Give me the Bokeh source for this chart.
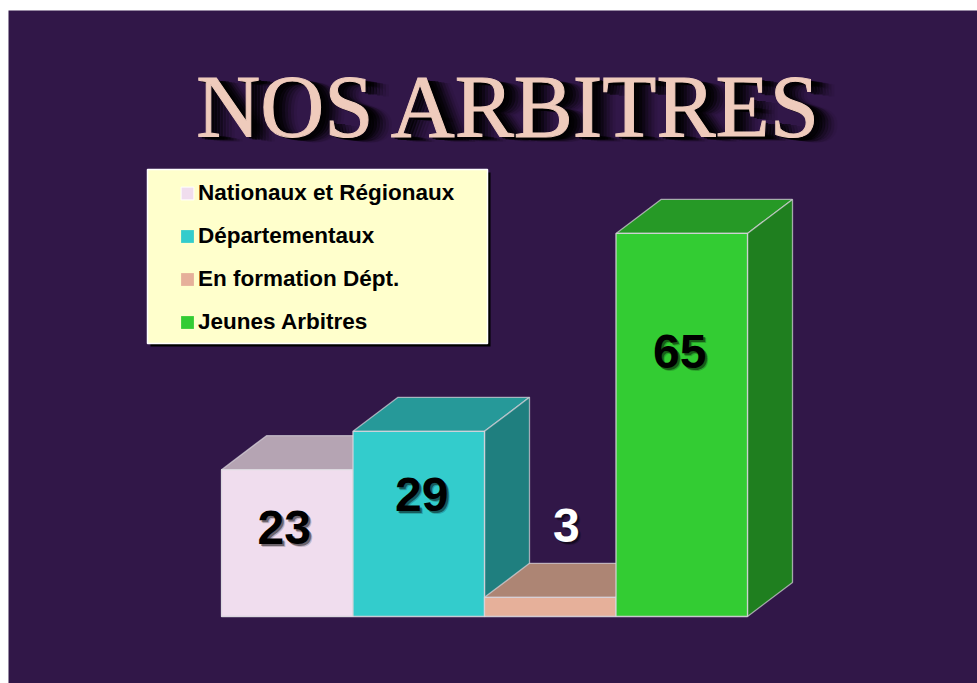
from bokeh.embed import file_html
from bokeh.resources import INLINE
from bokeh.plotting import figure
from bokeh.models import Range1d, Legend, LegendItem, Label, BoxAnnotation
from bokeh.core.properties import value

# ---- data ----
categories = ["Nationaux et Régionaux", "Départementaux", "En formation Dépt.", "Jeunes Arbitres"]
displayed_values = [23, 29, 3, 65]
drawn_heights = [23, 29, 3, 60]
front_colors = ["#F0DDEE", "#33CCCC", "#E6B09A", "#33CC33"]
top_colors = ["#B5A4B3", "#269999", "#AD8574", "#269926"]
side_colors = ["#B5A4B3", "#1F7F7F", "#8A6A5C", "#1F7F1F"]
label_colors = ["black", "black", "white", "black"]
title_text = "NOS ARBITRES"

# ---- style / layout ----
W, H = 977, 683
BG = "#311748"
EDGE = "#D8D4DC"
UX, UY = 131.5, 6.385           # pixels per category, pixels per unit
X0, Y0 = 221, 616               # page position of the chart origin
DEPTH_X, DEPTH_Y = 45 / UX, 34 / UY
FRAME_L, FRAME_T, FRAME_B = 8, 10, H
label_dx = [-3, 3, 16, -2]      # pixels from bar centre
label_py = [527, 494, 525, 351]  # page y of label centre

p = figure(width=W, height=H, output_backend="svg", toolbar_location=None,
           x_axis_type=None, y_axis_type=None,
           x_range=Range1d((FRAME_L - X0) / UX, (W - X0) / UX),
           y_range=Range1d((Y0 - FRAME_B) / UY, (Y0 - FRAME_T) / UY),
           min_border=0, min_border_top=FRAME_T, min_border_left=FRAME_L, min_border_right=0,
           min_border_bottom=0, outline_line_color=None,
           background_fill_color=BG, border_fill_color="white")
p.grid.visible = False

items = []
for i, h in enumerate(drawn_heights):
    x0, x1 = i, i + 1
    p.patch([x0, x1, x1 + DEPTH_X, x0 + DEPTH_X], [h, h, h + DEPTH_Y, h + DEPTH_Y],
            fill_color=top_colors[i], line_color=EDGE, line_alpha=0.7, line_width=1.3)
    p.patch([x1, x1 + DEPTH_X, x1 + DEPTH_X, x1], [0, DEPTH_Y, h + DEPTH_Y, h],
            fill_color=side_colors[i], line_color=EDGE, line_alpha=0.7, line_width=1.3)
    face = p.quad(left=[x0], right=[x1], bottom=[0], top=[h],
                  fill_color=front_colors[i], line_color="white" if i == 0 else None, line_width=1)
    p.quad(left=[x0], right=[x1], bottom=[0], top=[h], fill_color=None,
           line_color=EDGE, line_alpha=0.9, line_width=1.3)
    items.append(LegendItem(label=categories[i], renderers=[face]))

for i, v in enumerate(displayed_values):
    cx = i + 0.5 + label_dx[i] / UX
    cy = (Y0 - label_py[i]) / UY
    for off, alpha in [(3, 0.2), (2, 0.45)]:
        p.text([cx], [cy], text=[str(v)], x_offset=off, y_offset=off, text_align="center",
               text_baseline="middle", text_font=value("Liberation Sans"), text_font_style="bold",
               text_font_size="48px", text_color="black", text_alpha=alpha)
    p.text([cx], [cy], text=[str(v)], text_align="center", text_baseline="middle",
           text_font=value("Liberation Sans"), text_font_style="bold",
           text_font_size="48px", text_color=label_colors[i])


def sx(page_x):
    return page_x - FRAME_L


def sy(page_y):
    return FRAME_B - page_y


TITLE_X, TITLE_Y = 509.5, 137 - 32
for dx, dy, a in [(24, 5, 0.06), (21, 5, 0.12), (18, 4, 0.2), (15, 4, 0.3),
                  (12, 3, 0.45), (9, 3, 0.6), (6, 3, 0.7), (3, 2, 0.7)]:
    p.add_layout(Label(x=sx(TITLE_X + dx), y=sy(TITLE_Y + dy), x_units="screen", y_units="screen",
                       text=title_text, text_align="center", text_baseline="alphabetic",
                       text_font="Liberation Serif", text_font_size="88.6px",
                       text_color="black", text_alpha=a))
p.add_layout(Label(x=sx(TITLE_X), y=sy(TITLE_Y), x_units="screen", y_units="screen",
                   text=title_text, text_align="center", text_baseline="alphabetic",
                   text_font="Liberation Serif", text_font_size="88.6px", text_color="#EFCBBC",
                   text_outline_color="#EFCBBC"))

p.add_layout(BoxAnnotation(left=sx(150), right=sx(490), top=sy(172), bottom=sy(346),
                           left_units="screen", right_units="screen", top_units="screen",
                           bottom_units="screen", fill_color="black", fill_alpha=1, line_color=None))
p.add_layout(BoxAnnotation(left=sx(147), right=sx(487), top=sy(169), bottom=sy(343),
                           left_units="screen", right_units="screen", top_units="screen",
                           bottom_units="screen", fill_color="#FFFFCC", fill_alpha=1,
                           line_color="white", line_alpha=1, line_width=1.5))
legend = Legend(items=items, location=(sx(179), sy(338)), padding=0, margin=0, spacing=10,
                background_fill_alpha=0, border_line_color=None,
                glyph_width=16, glyph_height=16, label_standoff=3, label_height=33,
                label_text_font="Liberation Sans", label_text_font_style="bold",
                label_text_font_size="22.5px", label_text_color="black",
                label_text_baseline="middle")
p.add_layout(legend, "center")

open("out.html", "w").write(file_html(p, INLINE))
